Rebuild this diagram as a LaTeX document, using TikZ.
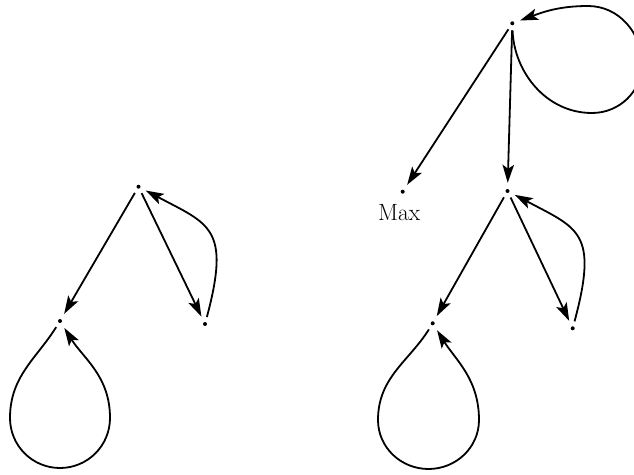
\documentclass[tikz,border=0pt]{standalone}
\usepackage{fontspec}
\usetikzlibrary{arrows.meta}
\begin{document}
\begin{tikzpicture}[x=1pt,y=1pt,
  vertex/.style={circle,fill=black,inner sep=0pt,minimum size=4pt},
  edge/.style={line width=1.8pt,-{Stealth[length=18pt,width=11.5pt,inset=4pt]},
               shorten >=6pt,shorten <=5pt}]
\useasboundingbox (0,0) rectangle (634,474);
\clip (0,0) rectangle (634,474);

% left tree
\node[vertex] (r1) at (138.5,287.3) {};
\node[vertex] (a1) at (60,153) {};
\node[vertex] (b1) at (205,150) {};

\draw[edge] (r1) -- (a1);
\draw[edge] (r1) -- (b1);
\draw[edge] (b1) .. controls +(75:100) and +(-28:80) .. (r1);
\draw[edge] (a1) to[out=-122,in=90] ++(-50,-97) to[out=-90,in=180] ++(50,-50)
                 to[out=0,in=-90] ++(50,50) to[out=90,in=-58] (a1);

% right tree
\node[vertex] (t) at (512.3,450.7) {};
\node[vertex] (m) at (402.7,282.3) {};
\node[anchor=base,inner sep=0pt,font=\fontsize{23.5}{28}\selectfont] (maxlabel) at (399.3,253.3) {Max};
\node[vertex] (c) at (507.5,283) {};
\node[vertex] (a2) at (432.7,150.7) {};
\node[vertex] (b2) at (572.7,145.7) {};

\draw[edge] (t) -- (m);
\draw[edge] (t) -- (c);
\draw[edge] (t) to[out=-88,in=180] (592,361) to[out=0,in=-90] (642,410)
                to[out=90,in=0] (588,468) to[out=180,in=20] (t);
\draw[edge] (c) -- (a2);
\draw[edge] (c) -- (b2);
\draw[edge] (b2) .. controls +(75:100) and +(-28:80) .. (c);
\draw[edge] (a2) to[out=-122,in=90] ++(-54.7,-96.7) to[out=-90,in=180] ++(50.5,-49)
                 to[out=0,in=-90] ++(50.5,49) to[out=90,in=-58] (a2);
\end{tikzpicture}
\end{document}
